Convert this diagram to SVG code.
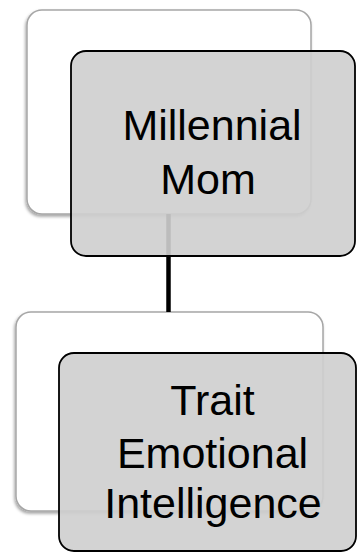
<svg xmlns="http://www.w3.org/2000/svg" width="357" height="552" viewBox="0 0 357 552">
  <defs>
    <filter id="sh" x="-10%" y="-10%" width="120%" height="125%">
      <feDropShadow dx="-1" dy="2" stdDeviation="1.5" flood-color="#000" flood-opacity="0.35"/>
    </filter>
    <style>
      .back { fill: #ffffff; stroke: #a6a6a6; stroke-width: 1.5; }
      .front { fill: #cfcfcf; fill-opacity: 0.91; stroke: #000000; stroke-width: 1.8; }
      .lbl { font-family: "Liberation Sans", Arial, sans-serif; font-size: 43px; fill: #000000; text-anchor: middle; }
      .conn { stroke: #000000; stroke-width: 4.5; fill: none; }
    </style>
  </defs>
  <g id="node-millennial-mom-back">
    <rect class="back" x="27" y="10" width="284" height="204" rx="15" ry="15" filter="url(#sh)"/>
  </g>
  <g id="node-trait-ei-back">
    <rect class="back" x="16" y="312" width="307" height="199" rx="15" ry="15" filter="url(#sh)"/>
  </g>
  <g id="connectors">
    <line class="conn" x1="168.5" y1="214" x2="168.5" y2="312"/>
  </g>
  <g id="node-millennial-mom">
    <rect class="front" x="71" y="51" width="284" height="205" rx="15" ry="15"/>
    <text class="lbl" x="212" y="140">Millennial</text>
    <text class="lbl" x="208" y="194">Mom</text>
  </g>
  <g id="node-trait-ei">
    <rect class="front" x="59" y="353" width="297" height="198" rx="15" ry="15"/>
    <text class="lbl" x="212.5" y="415">Trait</text>
    <text class="lbl" x="212.5" y="468">Emotional</text>
    <text class="lbl" x="213" y="518">Intelligence</text>
  </g>
</svg>
